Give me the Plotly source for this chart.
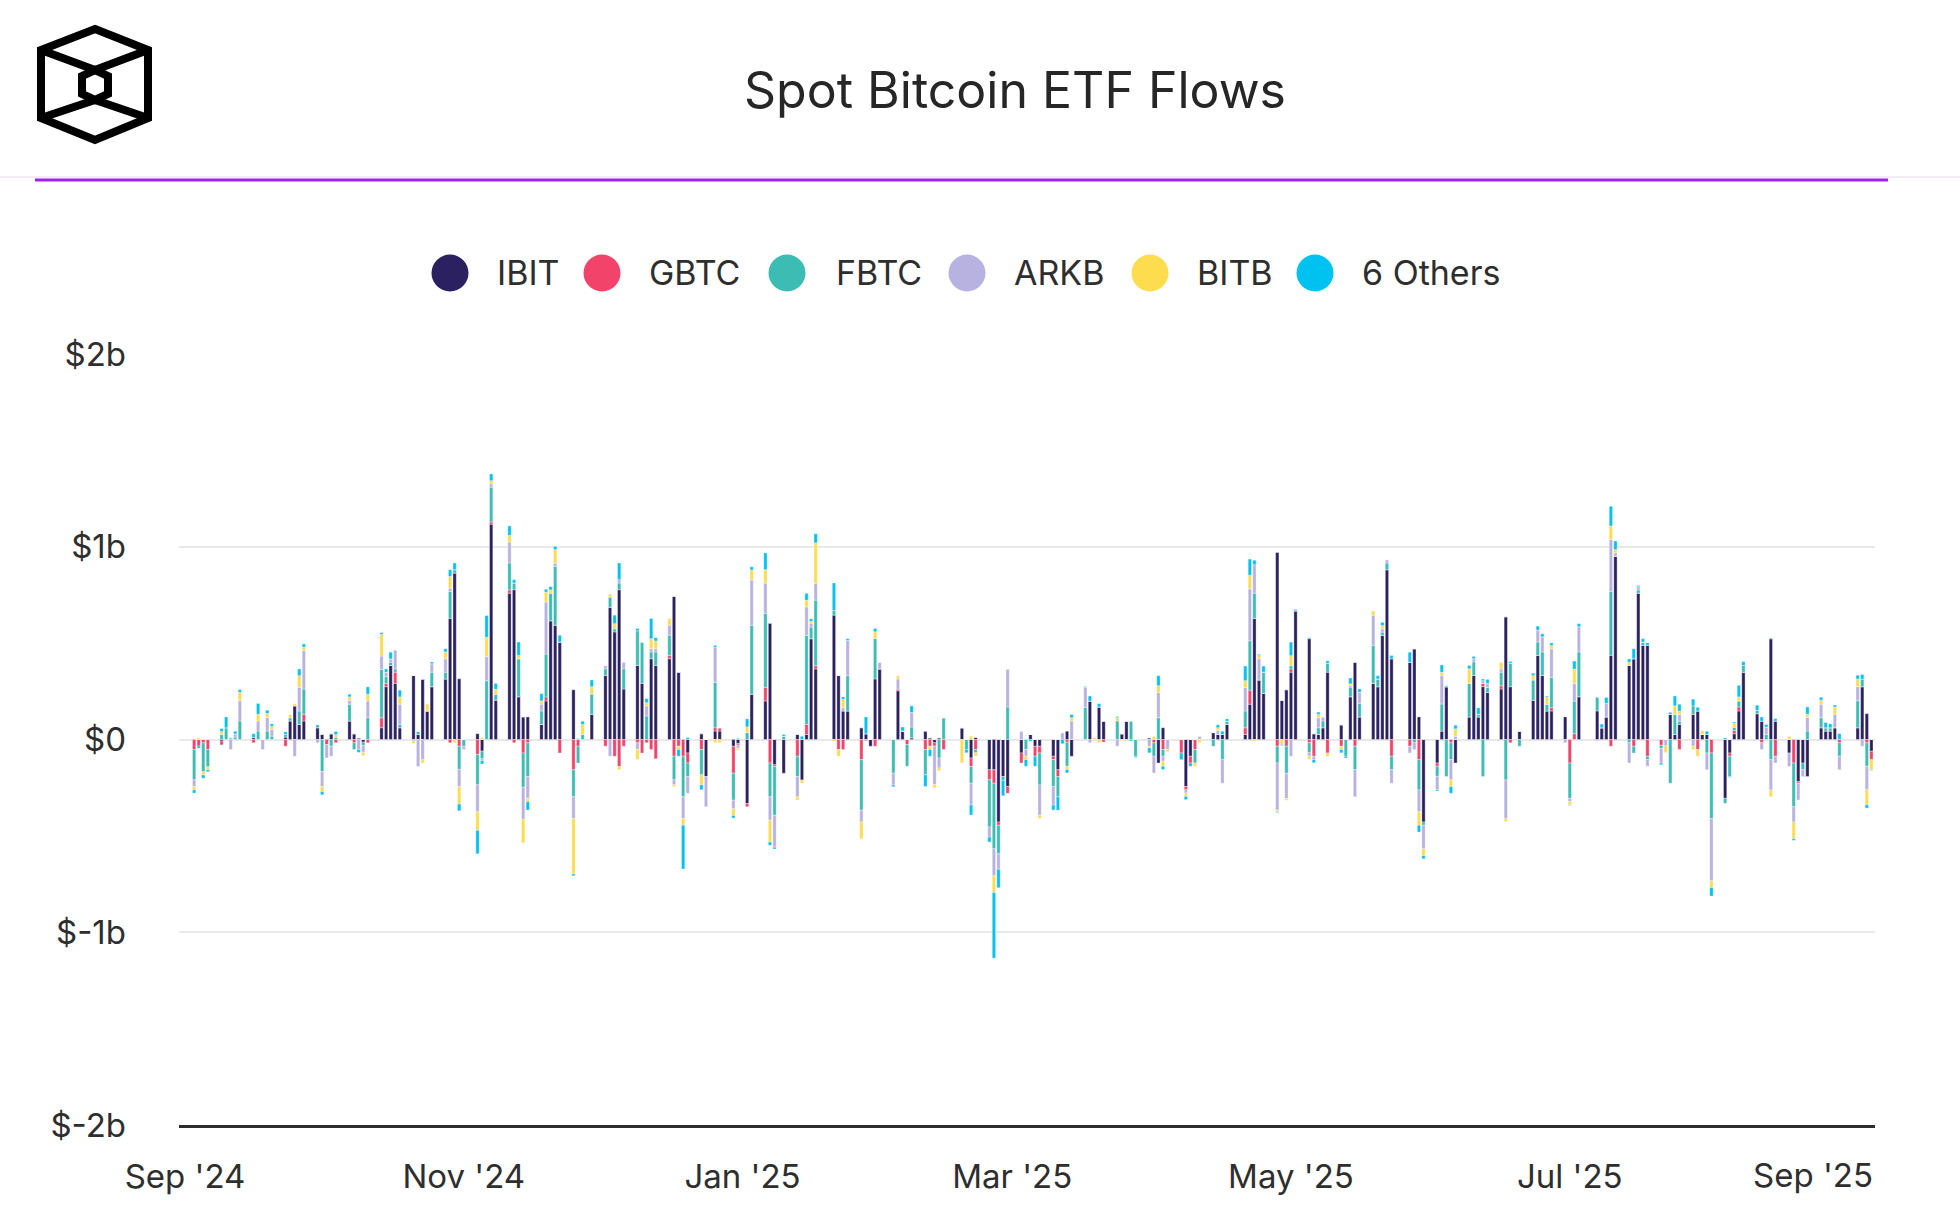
import plotly.graph_objects as go

# ---------------- data (daily net flows, $M) ----------------
MONTH_DAYS = {
    "2024-09": [3, 4, 5, 6, 9, 10, 11, 12, 13, 16, 17, 18, 19, 20, 23, 24, 25, 26, 27, 30],
    "2024-10": [1, 2, 3, 4, 7, 8, 9, 10, 11, 14, 15, 16, 17, 18, 21, 22, 23, 24, 25, 28, 29, 30, 31],
    "2024-11": [1, 4, 5, 6, 7, 8, 11, 12, 13, 14, 15, 18, 19, 20, 21, 22, 25, 26, 27, 29],
    "2024-12": [2, 3, 4, 5, 6, 9, 10, 11, 12, 13, 16, 17, 18, 19, 20, 23, 24, 26, 27, 30, 31],
    "2025-01": [2, 3, 6, 7, 8, 10, 13, 14, 15, 16, 17, 21, 22, 23, 24, 27, 28, 29, 30, 31],
    "2025-02": [3, 4, 5, 6, 7, 10, 11, 12, 13, 14, 18, 19, 20, 21, 24, 25, 26, 27, 28],
    "2025-03": [3, 4, 5, 6, 7, 10, 11, 12, 13, 14, 17, 18, 19, 20, 21, 24, 25, 26, 27, 28, 31],
    "2025-04": [1, 2, 3, 4, 7, 8, 9, 10, 11, 14, 15, 16, 17, 21, 22, 23, 24, 25, 28, 29, 30],
    "2025-05": [1, 2, 5, 6, 7, 8, 9, 12, 13, 14, 15, 16, 19, 20, 21, 22, 23, 27, 28, 29, 30],
    "2025-06": [2, 3, 4, 5, 6, 9, 10, 11, 12, 13, 16, 17, 18, 20, 23, 24, 25, 26, 27, 30],
    "2025-07": [1, 2, 3, 7, 8, 9, 10, 11, 14, 15, 16, 17, 18, 21, 22, 23, 24, 25, 28, 29, 30, 31],
    "2025-08": [1, 4, 5, 6, 7, 8, 11, 12, 13, 14, 15, 18, 19, 20, 21, 22, 25, 26, 27, 28, 29],
    "2025-09": [2, 3, 4, 5],
}
dates = [f"{m}-{d:02d}" for m, ds in MONTH_DAYS.items() for d in ds]

ibit = [
    0, 0, 0, 0, -8, 0, 0, 0, 0, 10, 0, 0, 0, 0, 12, 96, 175, 78, 96, 61,
    26, 5, 30, 0, 96, 30, 9, -14, 0, 61, 274, 384, 291, 61, 332, 26, 314, 148, 274, 314, 628, 864, 315,
    0, 30, -60, 0, 1117, 204, 759, 777, 222, 117, 117, 78, 200, 616, 593, 506, 258, 0, 0, 131,
    332, 686, 558, 777, 262, 384, 291, 0, 419, 384, 419, 742, 349, 0, -70, 30, -192, 44, 44, -35, -20,
    -332, 235, 200, 602, -131, -175, 26, -210, 26, 523, 366, 646, 332, 148, 148, 61, 30, -35, 314, 366,
    0, 253, 44, 0, 9, 44, 9, -17, 9, 0, 61, 0, -96, 12, -157, -157, -428, -192, -244,
    -70, 0, 26, -35, -35, -87, -157, 0, 44, -87, 0, 200, 0, 169, 96, 0, 30, 96, 0, 0, 9,
    0, -122, 61, 0, 0, -244, -87, 0, 0, 36, 26, 26, 78, 26, 183, 628, 309, 239, 970, 204, 258,
    349, 668, 523, 30, 26, 61, 349, 76, 0, 222, 401, 117, 291, 274, 540, 881, 419, 401, 471, 117, -428,
    -122, 44, 274, 0, -122, 117, 332, 117, 274, 244, 262, 637, 274, 44, 204, 436, 332, 148, 148, 119,
    0, 0, 222, 148, 61, 117, 436, 951, 384, 419, 759, 489, 489, 0, 0, 131, 26, 78, 131, 148, 26, 26,
    0, -305, -70, 30, 148, 349, 134, 96, 0, 523, 96, -70, 0, -218, -122, -192, 61, 44, 44, 61, 0,
    61, 274, 134, -61,
]
gbtc = [
    -52, -34, -17, -52, -20, 0, 0, 0, 0, -17, 0, 0, 0, 0, -35, 0, 0, 0, 35, 0,
    0, -26, 0, -17, 0, -17, 0, 0, -17, 52, 17, 0, 58, 0, 0, 0, 0, 0, 0, 0, -17, 0, -35,
    0, -78, 0, 0, 12, 0, 17, -17, 0, -70, -17, 0, 21, 0, 0, -70, -157, -35, 0, 0,
    -35, 0, -87, -140, -35, -17, -70, -17, -52, -100, 17, -87, -35, -87, -52, -52, 0, 17, 17, -140, -9,
    -17, 0, 70, -122, -9, 0, -87, 0, 52, 0, 17, 0, -52, -52, 0, -105, 0, 0, -35, 0,
    0, 9, 0, -26, 0, -52, -35, -17, 0, -52, 0, 0, -44, -52, -52, -70, -17, 0, -35,
    -52, 0, 0, -52, -35, -17, -35, 0, -14, 0, 0, 0, 0, 0, -13, 0, 0, 0, 0, 0, 0,
    -17, 0, -52, 0, -70, -17, -35, -52, 0, 0, 0, 0, 0, 35, 73, 0, 0, 0, -35, 0, -35,
    17, 0, -17, -87, 0, 0, -70, -35, 0, 0, -35, 0, 0, 0, 0, 0, -87, -35, 0, -105, 0,
    -17, 0, 0, -17, 0, 0, 0, 0, 17, 0, 17, 0, -17, 0, 0, 0, 0, 0, 17, 0,
    -122, 30, 0, -4, 0, 0, -35, 0, 0, -35, 0, 0, -87, -30, 0, 0, 0, -52, 0, -52, 0, 0,
    -70, 0, -17, 17, 21, 0, 0, -17, 0, 0, -87, 0, -122, -9, 0, 0, 0, 0, 0, 0, -17,
    0, 0, -17, -44,
]
fbtc = [
    -157, 0, -150, -90, 26, 61, 9, 12, 96, 0, 44, 0, 44, 17, 14, 17, 0, 70, 131, 17,
    -166, 0, -35, 12, 87, -35, 0, -17, 113, 250, 35, 17, 17, 17, 0, 17, 0, 0, 75, 35, 140, 17, -120,
    -35, -157, -40, 305, 180, 31, 140, 35, 197, -178, -175, 70, 222, 143, 305, 0, -140, -87, 26, 105,
    35, 52, 17, 35, 105, 180, 215, 122, 35, 70, 105, -122, 0, -210, -70, -131, 0, 235, 0, -140, 0,
    36, 357, 384, -175, -253, 17, -105, 0, 462, 60, 340, 23, 0, 0, 183, -262, 0, 0, 210, 0,
    -175, 0, 0, -113, 56, -131, 0, 0, -96, 113, 0, -52, -87, -17, -245, -340, -148, -20, 169,
    0, -52, 0, 0, -166, -140, -105, 0, -125, 0, 166, 0, 0, 0, 0, 96, 0, 0, 96, -87, 0,
    -70, 113, -35, 0, 0, 0, 0, -70, 0, -35, 0, -105, 17, 87, 256, 131, 0, 110, -87, 0, -140,
    17, 0, -52, 0, 35, 35, 47, 0, -87, 49, -122, 70, 197, 40, 17, 35, -70, 0, -17, -157, -17,
    -52, 140, -192, -87, 0, 175, 70, 14, -192, 26, 70, -210, 122, -35, 105, 70, 122, 35, 157, 0,
    -183, 169, 232, 73, 0, 0, 332, 0, -17, -35, 17, 17, -17, -17, 0, -227, 105, 17, 44, 0, 0, -70,
    -340, -26, -105, 17, 31, 35, 17, 0, 26, -105, 0, 0, -227, 0, -35, 44, 52, 17, 17, 0, -70,
    140, 40, -122, 0,
]
arkb = [
    -35, 0, 0, 0, 0, 0, -52, 17, 105, 0, 52, -52, 70, 35, 0, 0, -87, 122, 200, -17,
    -78, -70, -52, 0, 21, 0, -52, -35, 87, 70, 23, 17, 99, 105, -8, -140, -105, 0, 44, 70, 17, 0, -90,
    -17, -140, -10, 125, 17, 0, 108, 0, 0, -166, -113, 35, 270, 0, 17, 0, -113, 0, 0, 0,
    17, -87, 0, 17, 35, -35, 0, 52, 17, 17, 52, -26, 0, -113, -87, 0, -157, 183, 0, -44, -17,
    0, 235, 157, -122, -166, 0, -105, 0, 148, 20, 87, 0, 0, 17, 183, -61, -9, 0, 0, 35,
    -61, 52, 0, 0, 75, 0, 0, -200, -52, 0, 0, 0, -113, 0, -52, -140, -80, 0, 197,
    44, -35, 0, 0, -157, -96, 0, 35, 0, 96, 105, -17, 0, 0, 0, -35, 0, 0, 0, 0, -35,
    -87, 131, -26, -52, 0, -17, 0, 0, 17, 0, 21, -122, 0, 122, 270, 148, 110, 0, -244, 0, -131,
    -87, 0, -17, -17, 52, 21, 0, 0, 0, 9, -140, 58, 157, 0, 17, 17, -70, -35, -35, -113, -122,
    -70, 148, 0, -105, 17, 0, 17, 0, 14, 21, 17, -200, 0, 0, 0, 61, 79, 0, 148, -17,
    -17, 91, 131, 0, 0, 70, 270, 17, -105, 0, 17, 0, -35, -75, -33, 0, 0, 35, -35, 0, 0, -87,
    -323, 0, 0, 0, 0, 0, 0, -35, 38, -157, -35, -70, -79, -87, -35, 70, 70, 0, 0, 70, -70,
    73, -35, -122, 0,
]
bitb = [
    -17, 8, -17, -15, 15, 0, 0, 0, 44, 0, 35, 0, 21, 17, 0, 17, 12, 61, 17, 0,
    -26, 0, 0, 14, 17, 0, 0, -17, 35, 113, 0, 0, 0, 38, -12, 0, -17, 38, 0, 35, 61, -17, -90,
    0, -96, 10, 100, 17, 26, 35, 0, 17, -122, -17, 17, 52, 17, 70, 0, -288, 0, 52, 38,
    0, 17, 26, -17, 0, -52, 0, 17, 52, 40, 35, -9, -17, -35, 0, -52, 0, -17, -17, -35, -9,
    30, 52, 70, -113, 0, 0, -17, -17, 35, 10, 210, -10, -35, 44, 0, -87, 0, 0, 35, 0,
    0, 17, 0, 0, 0, 0, -17, -17, -14, 0, -122, 0, 17, -17, 0, -87, 0, 0, 0,
    0, -17, 0, 0, -17, 0, 0, 0, -17, 17, 0, 0, 11, -17, 0, 17, -3, -7, 0, 0, -9,
    17, 35, -26, -12, 0, -17, 0, -17, -15, 0, 14, 0, 0, 35, 70, -9, 17, 0, -9, -26, -9,
    52, 0, -17, 0, 17, 0, -17, -17, 0, 9, 0, 0, 23, 0, 17, 0, 0, 0, 0, -70, -35,
    0, 17, 0, -35, 38, 75, 0, 0, 0, 0, 35, -17, 0, 0, 23, 0, 0, 38, 17, 0,
    -17, 75, 0, 0, 0, 0, 70, 17, 17, 0, 0, 0, 0, 0, -35, 0, 44, 17, -17, -35, 21, 0,
    -35, 0, 0, 21, 21, 0, 0, 0, 0, -35, 0, 17, -87, 0, 0, 17, 21, 0, 0, 38, 0,
    40, 0, -78, -52,
]
others = [
    -17, -11, -17, -10, 16, 56, 0, 14, 14, 20, 56, 0, 17, 12, 14, 0, 0, 35, 17, 0,
    -17, 0, 0, 16, 14, 0, -15, 0, 38, 9, 17, 35, 0, 35, 0, 0, 0, 0, 9, 17, 35, 35, -35,
    0, -122, -17, 113, 35, 30, 49, 17, 70, 0, -44, 38, 14, 17, 17, 35, -9, 5, 17, 35,
    0, 0, 44, 87, 0, 12, 0, 21, 105, 17, 0, 0, -35, -227, 10, -26, 0, 9, 0, -14, 5,
    41, 17, 87, -17, -9, 9, 0, 17, 35, 13, 47, 143, 0, 12, 9, 0, 87, 0, 17, 0,
    -9, 0, 21, 0, 35, -61, -35, 0, 0, 0, 0, -17, -52, 0, -26, -340, -96, -80, 0,
    0, -35, -9, -52, 0, -26, -70, -22, -17, 17, 4, 26, 0, 17, 0, 6, 0, 0, -7, -6, -25,
    0, 52, -17, 0, -35, -17, -17, 0, 0, 0, 15, 17, 12, 76, 84, 23, 6, 32, -4, -5, 0,
    70, 7, 5, -17, 12, 0, 12, -17, -9, 30, 0, 17, 0, 17, 17, 0, 17, 52, 0, -35, -17,
    -6, 38, 5, -35, 19, 17, 12, 33, 9, 21, 0, 0, 9, 0, 12, 21, 15, 5, 14, 0,
    -3, 42, 16, 0, 19, 31, 102, 45, 17, 52, 6, 17, 13, -9, 0, 10, 51, 36, 34, 19, 0, 17,
    -44, 8, -4, 6, 60, 20, 27, 21, 14, 4, 12, 0, -8, 3, -2, 38, 15, 27, 20, 10, 30,
    19, 23, -17, -3,
]

series_names = ["IBIT", "GBTC", "FBTC", "ARKB", "BITB", "6 Others"]
series_values = [ibit, gbtc, fbtc, arkb, bitb, others]
series_colors = ["#2b2160", "#f2436a", "#3cbcb3", "#b8b2e1", "#fddc4e", "#00c2f0"]

x_tick_vals = ["2024-09-01", "2024-11-01", "2025-01-01", "2025-03-01", "2025-05-01", "2025-07-01"]
x_tick_text = ["Sep '24", "Nov '24", "Jan '25", "Mar '25", "May '25", "Jul '25"]
last_x_label = "Sep '25"
y_tick_vals = [-2, -1, 0, 1, 2]
y_tick_text = ["$-2b", "$-1b", "$0", "$1b", "$2b"]

for name, vals in zip(series_names, series_values):
    assert len(vals) == len(dates), (name, len(vals), len(dates))

# ---------------- layout geometry ----------------
W, H = 1960, 1224
L, R, T, B = 179, 85, 354, 99
PW, PH = W - L - R, H - T - B
FONT = "Inter"
TXT = "#2e2e2e"


def pxx(x):
    return (x - L) / PW


def pxy(y):
    return (H - B - y) / PH


fig = go.Figure()
DAY_MS = 86400000
for name, vals, col in zip(series_names, series_values, series_colors):
    fig.add_trace(go.Bar(
        x=dates, y=[v / 1000 for v in vals], name=name,
        marker=dict(color=col, line=dict(color="rgba(255,255,255,0.7)", width=0.5)),
        width=0.72 * DAY_MS, showlegend=False,
    ))

shapes = []
annotations = []

# header title
annotations.append(dict(text="Spot Bitcoin ETF Flows", x=pxx(1015), y=pxy(90), xref="paper", yref="paper",
                        xanchor="center", yanchor="middle", showarrow=False,
                        font=dict(family=FONT, size=50, color="#262626")))
# header separator lines
shapes.append(dict(type="line", xref="paper", yref="paper", x0=pxx(0), x1=pxx(W), y0=pxy(177), y1=pxy(177),
                   line=dict(color="#f1ecf6", width=2)))
shapes.append(dict(type="line", xref="paper", yref="paper", x0=pxx(35), x1=pxx(1888), y0=pxy(180), y1=pxy(180),
                   line=dict(color="#a11ff0", width=3)))

# logo
def path(points, close=False):
    s = "M " + " L ".join(f"{pxx(x):.5f},{pxy(y):.5f}" for x, y in points)
    return s + (" Z" if close else "")

outer = [(95, 29), (148, 50), (148, 118), (95, 140), (41, 118), (41, 50)]
inner = [(95, 70), (108, 76), (108, 94), (95, 100), (82, 94), (82, 76)]
logo_paths = [path(outer, True), path(inner, True),
              path([(41, 50), (95, 70), (148, 50)]),
              path([(41, 118), (95, 100), (148, 118)])]
for p in logo_paths:
    shapes.append(dict(type="path", xref="paper", yref="paper", path=p,
                       line=dict(color="#000000", width=8)))

# legend (big circular swatches)
legend_cx = [450, 602, 787, 967, 1150, 1315]
legend_tx = [495, 647, 834, 1012, 1195, 1360]
LEG_Y = 273
for name, col, cx, tx in zip(series_names, series_colors, legend_cx, legend_tx):
    shapes.append(dict(type="circle", xref="paper", yref="paper", xsizemode="pixel", ysizemode="pixel",
                       xanchor=pxx(cx), yanchor=pxy(LEG_Y), x0=-18.5, x1=18.5, y0=-18.5, y1=18.5,
                       fillcolor=col, line=dict(width=0)))
    annotations.append(dict(text=name, x=pxx(tx), y=pxy(LEG_Y), xref="paper", yref="paper",
                            xanchor="left", yanchor="middle", showarrow=False,
                            font=dict(family=FONT, size=34, color=TXT)))

# last x label kept inside plot
annotations.append(dict(text=last_x_label, x=1.0, y=pxy(1175), xref="paper", yref="paper",
                        xanchor="right", yanchor="middle", showarrow=False,
                        font=dict(family=FONT, size=33, color=TXT)))

fig.update_layout(
    width=W, height=H, autosize=False,
    margin=dict(l=L, r=R, t=T, b=B, pad=0),
    paper_bgcolor="white", plot_bgcolor="white",
    barmode="relative", showlegend=False,
    font=dict(family=FONT, color=TXT),
    shapes=shapes, annotations=annotations,
    xaxis=dict(type="date", range=["2024-08-30 16:30", "2025-09-05 19:00"],
               tickmode="array", tickvals=x_tick_vals, ticktext=x_tick_text,
               showgrid=False, zeroline=False, showline=True, linecolor="#2d2d2d", linewidth=3,
               ticks="", tickfont=dict(family=FONT, size=33, color=TXT), ticklabelstandoff=20),
    yaxis=dict(range=[-2, 2], tickmode="array", tickvals=y_tick_vals, ticktext=y_tick_text,
               showgrid=True, gridcolor="#e9e9e9", gridwidth=2, zeroline=False, showline=False,
               ticks="", tickfont=dict(family=FONT, size=33, color=TXT), ticklabelstandoff=52),
)

fig.write_html("out.html")
